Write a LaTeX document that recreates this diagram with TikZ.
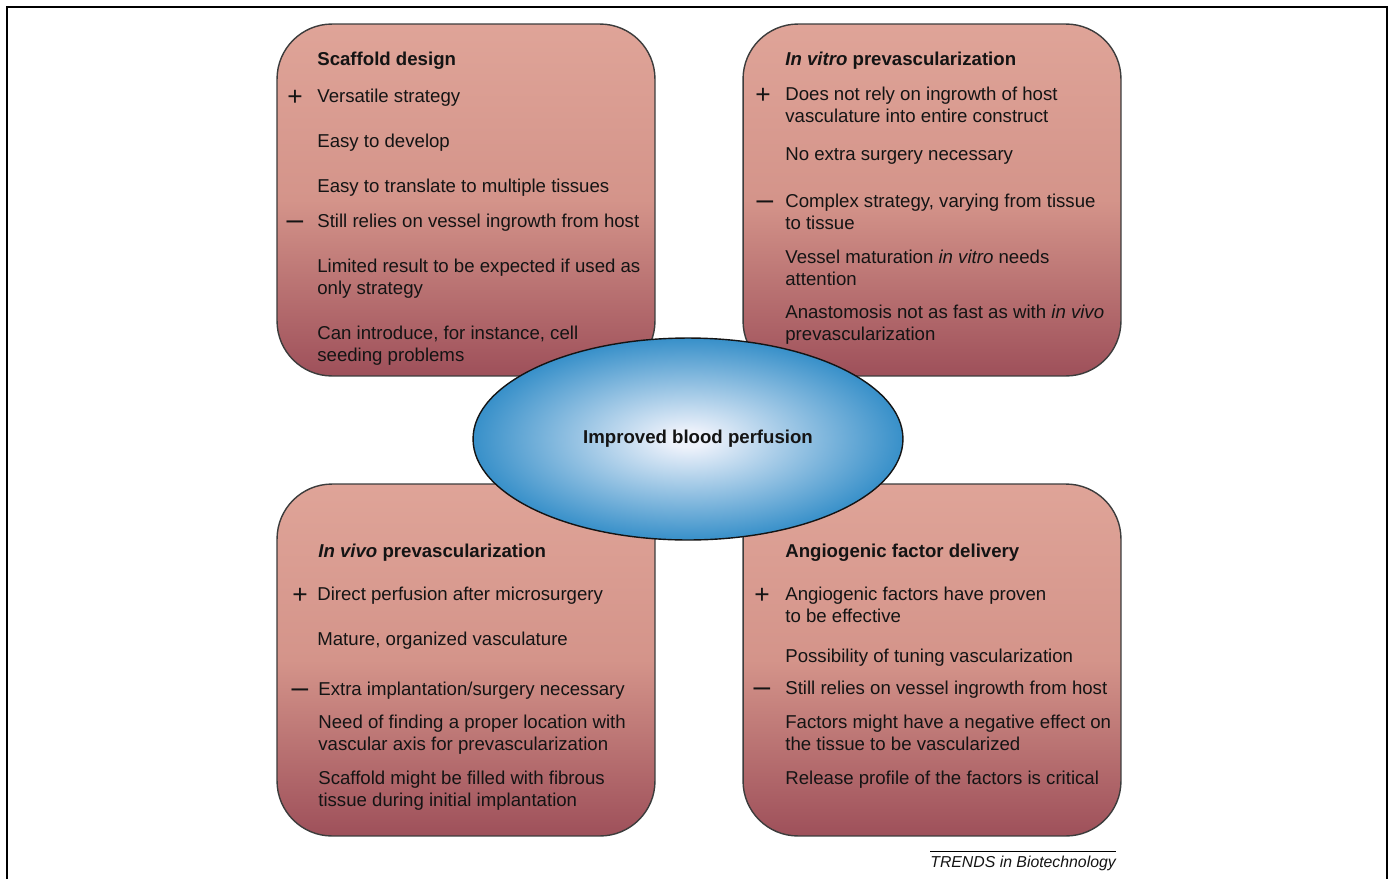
\documentclass[tikz,border=0pt]{standalone}
\usepackage{fontspec}
\setmainfont{Liberation Sans}
\usetikzlibrary{shapes.geometric}

\definecolor{boxtop}{RGB}{223,164,152}
\definecolor{boxmid}{RGB}{212,148,138}
\definecolor{boxbot}{RGB}{158,80,90}
\definecolor{boxline}{RGB}{60,60,60}
\definecolor{ellblue}{RGB}{0,114,186}
\definecolor{ellin}{RGB}{238,242,251}
\definecolor{ink}{RGB}{20,20,20}

\pgfdeclareradialshading{perfusion}{\pgfpoint{0bp}{0bp}}{%
  color(0bp)=(ellin); color(2bp)=(ellin); color(32bp)=(ellblue); color(50bp)=(ellblue)}

\tikzset{
  box/.style={draw=boxline, line width=0.8pt, rounded corners=1.1cm,
    minimum width=7.56cm, minimum height=7.04cm,
    top color=boxtop, bottom color=boxbot, middle color=boxmid},
  item/.style={anchor=base west, align=left, inner sep=0pt, text=ink,
    font=\fontsize{10.6}{12.5}\selectfont},
  head/.style={item, font=\fontsize{10.6}{12.5}\selectfont\bfseries},
  plus/.style={anchor=base, inner sep=0pt, text=ink, yshift=-2pt,
    font=\fontsize{15}{16}\selectfont},
  minus/.style={anchor=base, inner sep=0pt, text=ink, yshift=-1.5pt,
    font=\fontsize{17}{18}\selectfont}
}

\begin{document}
\begin{tikzpicture}[x=0.02cm, y=-0.02cm]
  \useasboundingbox (0,0) rectangle (1391,879);
  \draw[line width=1.1pt] (7,879) -- (7,7) -- (1387,7) -- (1387,879);

  % the four strategies
  \node[box] (scaffold) at (466,200) {};
  \node[box] (vitro)    at (932,200) {};
  \node[box] (vivo)     at (466,660) {};
  \node[box] (factor)   at (932,660) {};

  % scaffold design (two-line items sit on their last baseline)
  \node[head]  (s0) at (317,65)  {Scaffold design};
  \node[plus]  (sP) at (295,102) {+};
  \node[item]  (s1) at (317,102) {Versatile strategy};
  \node[item]  (s2) at (317,147) {Easy to develop};
  \node[item]  (s3) at (317,192) {Easy to translate to multiple tissues};
  \node[minus] (sM) at (295,227) {\textendash};
  \node[item]  (s4) at (317,227) {Still relies on vessel ingrowth from host};
  \node[item]  (s5) at (317,294) {Limited result to be expected if used as\\only strategy};
  \node[item]  (s6) at (317,361) {Can introduce, for instance, cell\\seeding problems};

  % in vitro
  \node[head]  (t0) at (785,65)  {\textit{In vitro} prevascularization};
  \node[plus]  (tP) at (763,100) {+};
  \node[item]  (t1) at (785,122) {Does not rely on ingrowth of host\\vasculature into entire construct};
  \node[item]  (t2) at (785,160) {No extra surgery necessary};
  \node[minus] (tM) at (765,207) {\textendash};
  \node[item]  (t3) at (785,229) {Complex strategy, varying from tissue\\to tissue};
  \node[item]  (t4) at (785,285) {Vessel maturation \textit{in vitro} needs\\attention};
  \node[item]  (t5) at (785,340) {Anastomosis not as fast as with \textit{in vivo}\\prevascularization};

  % in vivo
  \node[head]  (v0) at (318,557) {\textit{In vivo} prevascularization};
  \node[plus]  (vP) at (300,600) {+};
  \node[item]  (v1) at (317,600) {Direct perfusion after microsurgery};
  \node[item]  (v2) at (317,645) {Mature, organized vasculature};
  \node[minus] (vM) at (300,695) {\textendash};
  \node[item]  (v3) at (318,695) {Extra implantation/surgery necessary};
  \node[item]  (v4) at (318,750) {Need of finding a proper location with\\vascular axis for prevascularization};
  \node[item]  (v5) at (318,806) {Scaffold might be filled with fibrous\\tissue during initial implantation};

  % angiogenic factors
  \node[head]  (f0) at (785,557) {Angiogenic factor delivery};
  \node[plus]  (fP) at (762,600) {+};
  \node[item]  (f1) at (785,622) {Angiogenic factors have proven\\to be effective};
  \node[item]  (f2) at (785,662) {Possibility of tuning vascularization};
  \node[minus] (fM) at (762,694) {\textendash};
  \node[item]  (f3) at (785,694) {Still relies on vessel ingrowth from host};
  \node[item]  (f4) at (785,750) {Factors might have a negative effect on\\the tissue to be vascularized};
  \node[item]  (f5) at (785,784) {Release profile of the factors is critical};

  % centre
  \node[ellipse, draw=ink, line width=0.8pt, shading=perfusion, inner sep=0pt,
        minimum width=8.6cm, minimum height=4.04cm] (perfusion) at (688,439) {};
  \node[head, anchor=center] (goal) at (698,439) {Improved blood perfusion};

  \node[item, font=\fontsize{9}{11}\selectfont\itshape] (trends) at (930,867) {TRENDS in Biotechnology};
  \draw[line width=0.5pt] ([yshift=2.2pt]trends.north west) -- ([yshift=2.2pt]trends.north east);
\end{tikzpicture}
\end{document}
